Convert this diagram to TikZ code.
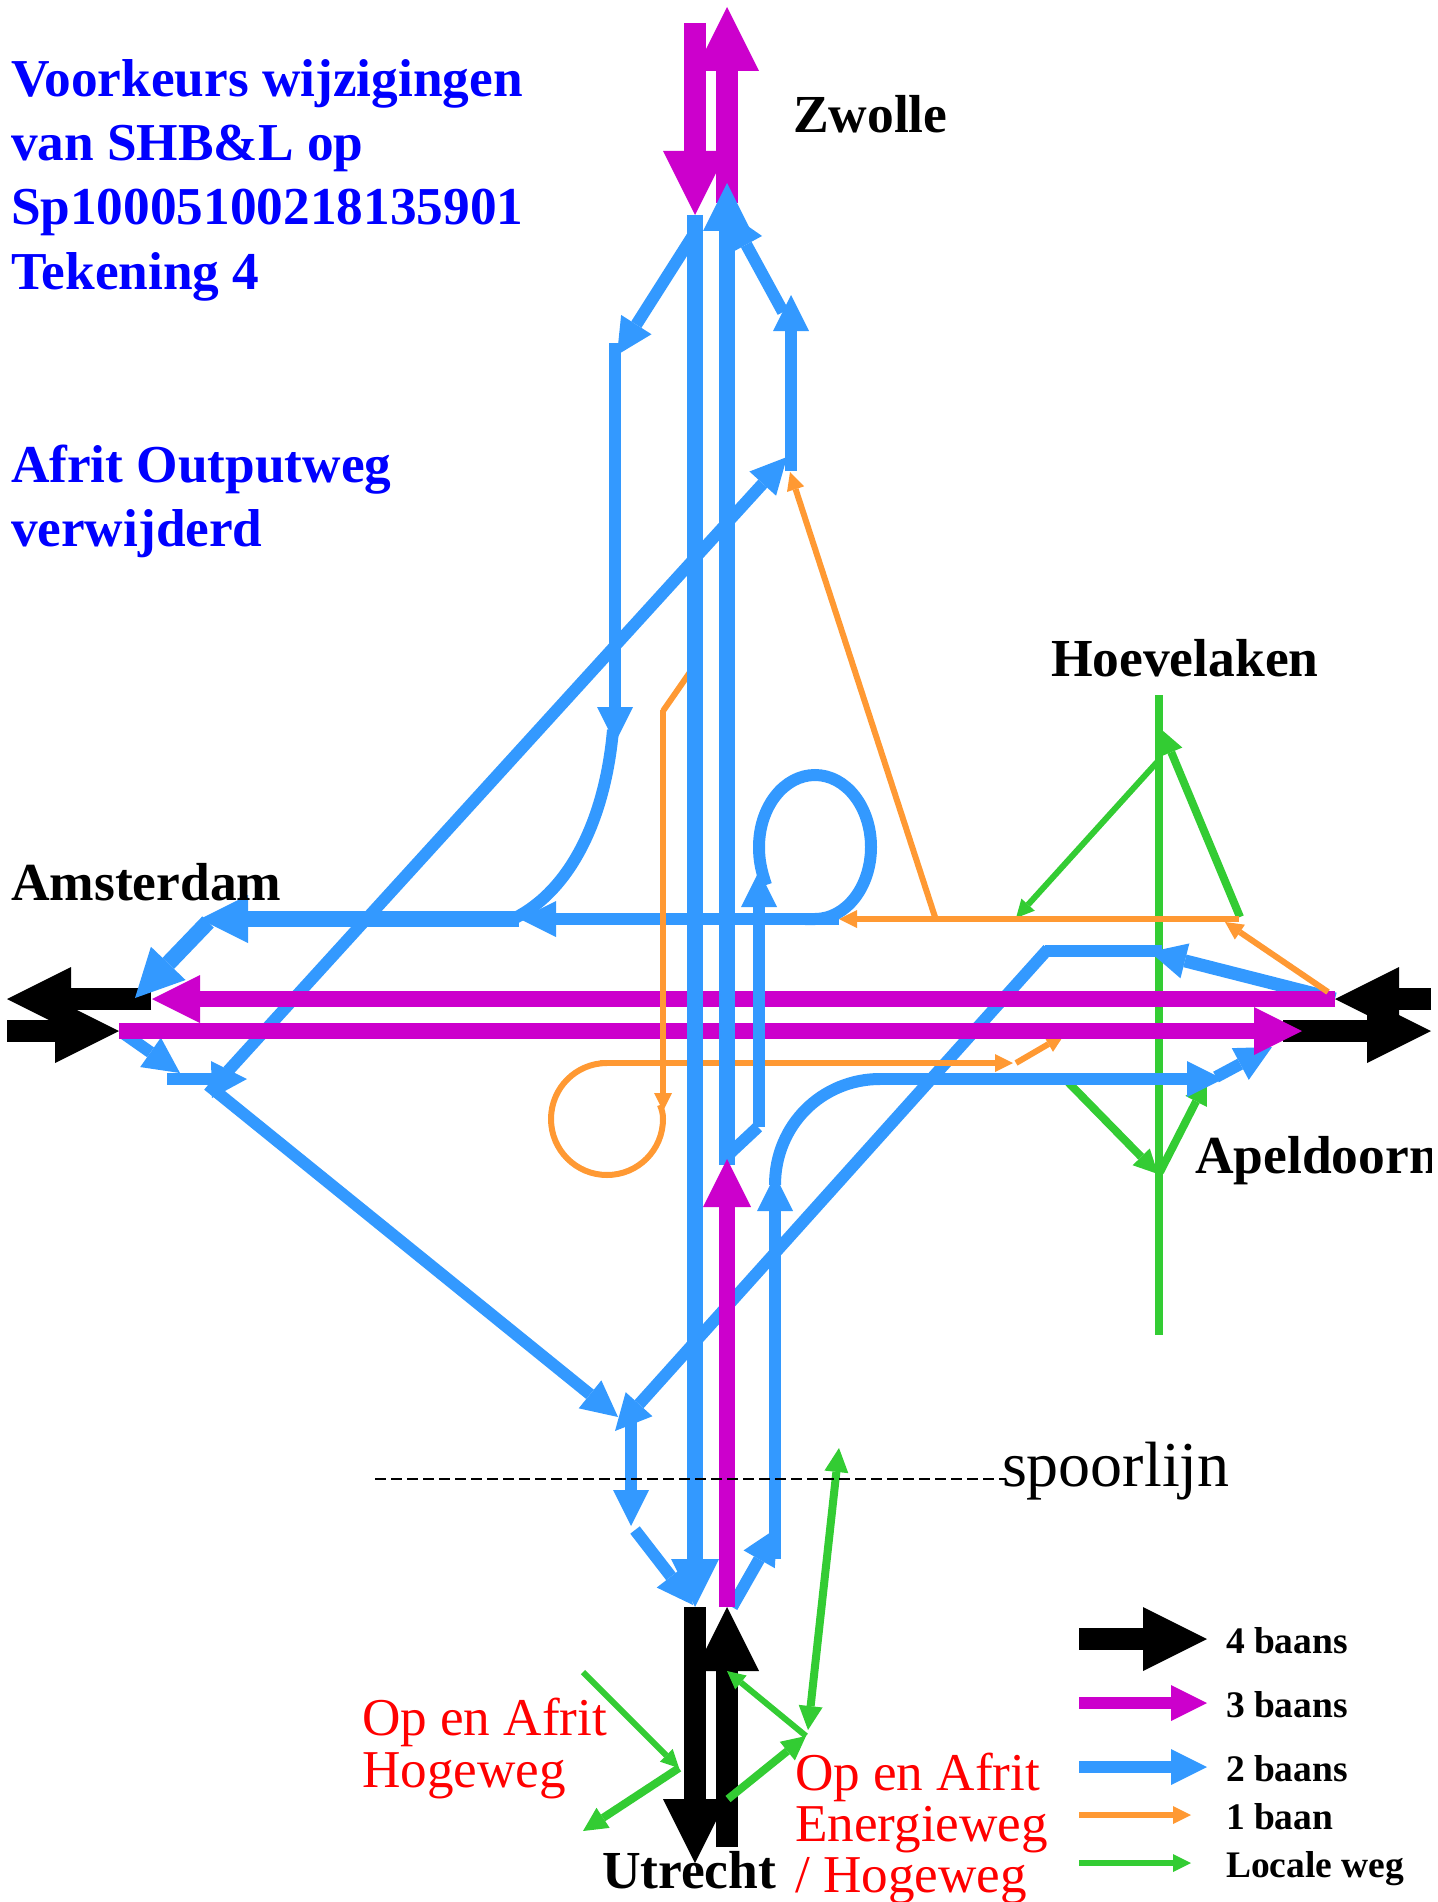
\documentclass[tikz,border=0pt]{standalone}
\usepackage{fontspec}
\setmainfont{Liberation Serif}
\usetikzlibrary{arrows.meta}
\definecolor{wayblue}{RGB}{51,153,255}
\definecolor{waymag}{RGB}{204,0,204}
\definecolor{waygreen}{RGB}{51,204,51}
\definecolor{wayorange}{RGB}{255,153,51}
\tikzset{
  fourway/.style={line width=21.5pt,-{Triangle[length=64pt,width=64pt,line width=0pt]}},
  threeway/.style={draw=waymag,line width=16pt,-{Triangle[length=48pt,width=48pt,line width=0pt]}},
  twowide/.style={draw=wayblue,line width=16pt,-{Triangle[length=48pt,width=48pt,line width=0pt]}},
  twothin/.style={draw=wayblue,line width=12pt,-{Triangle[length=36pt,width=36pt,line width=0pt]}},
  twoplain/.style={draw=wayblue,line width=12pt},
  orangeway/.style={draw=wayorange,line width=6pt,-{Triangle[length=18pt,width=18pt,line width=0pt]}},
  orangeplain/.style={draw=wayorange,line width=6pt},
  greenthin/.style={draw=waygreen,line width=6pt,-{Triangle[length=18pt,width=18pt,line width=0pt]}},
  greenthick/.style={draw=waygreen,line width=8pt,-{Triangle[length=24pt,width=24pt,line width=0pt]}},
  txt/.style={inner sep=0pt,outer sep=0pt,anchor=base west},
  bluetxt/.style={txt,text=blue,font=\fontsize{53.3}{53.3}\selectfont\bfseries},
  blacktxt/.style={txt,text=black,font=\fontsize{53.5}{53.5}\selectfont\bfseries},
  redtxt/.style={txt,text=red,font=\fontsize{53.2}{53.2}\selectfont},
  legtxt/.style={txt,text=black,font=\fontsize{37.5}{37.5}\selectfont\bfseries},
}
\begin{document}
\begin{tikzpicture}[x=1pt,y=-1pt]
\useasboundingbox (0,0) rectangle (1437,1902);
% local roads
\draw[draw=waygreen,line width=8pt] (1159,695) -- (1159,1335);
\draw[greenthin] (1159,760) -- (1016,918);
\draw[greenthick] (1240,917) -- (1162,730);
\draw[greenthick] (1065,1079) -- (1158,1174);
\draw[greenthick] (1160,1172) -- (1207,1080);
% motorway ends, horizontal
\draw[fourway] (151,999) -- (7,999);
\draw[fourway] (7,1031) -- (119,1031);
\draw[fourway] (1431,999) -- (1335,999);
\draw[fourway] (1283,1031) -- (1431,1031);
% two lane ramps
\draw[twothin] (228,1071) -- (787,457);
\fill[wayblue] (211,1061) -- (247,1079) -- (212,1098) -- cycle;
\draw[twoplain] (167,1079) -- (225,1079);
\draw[twothin] (123,1033) -- (180,1073);
\draw[twothin] (208,1085) -- (618,1417);
\draw[twothin] (1048,949) -- (615,1431);
\draw[twoplain] (1045,951) -- (1162,951);
\draw[draw=wayblue,line width=13pt,-{Triangle[length=36pt,width=36pt,line width=0pt]}] (1335,999) -- (1150,952);
\draw[twothin] (839,919) -- (520,919);
\draw[twowide] (519,919) -- (200,919);
\draw[twowide] (208,922) -- (135,998);
\draw[twothin] (692,237) -- (617,355);
\draw[twothin] (615,343) -- (615,743);
\draw[twoplain] (613,730) .. controls (605,820) and (570,890) .. (515,918);
\draw[twothin] (791,471) -- (791,295);
\draw[twothin] (783,312) -- (729,213);
\draw[twothin] (775,1559) -- (775,1175);
\draw[twoplain] (775,1185) .. controls (775,1125) and (822,1079) .. (880,1079);
\draw[twothin] (880,1079) -- (1223,1079);
\draw[twothin] (1216,1077) -- (1272,1047);
\draw[twothin] (631,1421) -- (631,1526);
\draw[twothin] (635,1530) -- (693,1605);
\draw[twothin] (732,1607) -- (777,1528);
% small orange stub, runs under the motorway
\draw[orangeway] (1016,1063) -- (1064,1035);
% three lane horizontals
\draw[threeway] (1335,999) -- (152,999);
\draw[threeway] (119,1031) -- (1302,1031);
% one lane roads
\draw[orangeway] (1239,919) -- (839,919);
\draw[orangeway] (935,917) -- (790,472);
\draw[orangeway] (1328,992) -- (1225,922);
\draw[orangeplain] (695,665) -- (663,711);
\draw[orangeway] (663,710) -- (663,1111);
\draw[orangeplain] (660,1105) .. controls (662,1110) and (663,1114) .. (663,1119)
  .. controls (663,1150) and (638,1175) .. (607,1175)
  .. controls (576,1175) and (551,1150) .. (551,1119)
  .. controls (551,1088) and (576,1063) .. (607,1063);
\draw[orangeway] (600,1063) -- (1013,1063);
% loop and inner ramp
\draw[twoplain] (758,1127) -- (727,1156);
\draw[twothin] (759,1127) -- (759,871);
\draw[twoplain] (805,919) -- (815,919)
  .. controls (846,919) and (871,887) .. (871,847)
  .. controls (871,807) and (846,775) .. (815,775)
  .. controls (784,775) and (759,807) .. (759,847)
  .. controls (759,860) and (761,870) .. (766,885);
% north end
\draw[draw=waymag,line width=21.5pt,-{Triangle[length=64pt,width=64pt,line width=0pt]}] (695,23) -- (695,215);
\draw[draw=waymag,line width=21.5pt,-{Triangle[length=64pt,width=64pt,line width=0pt]}] (727,203) -- (727,7);
% main carriageways
\draw[twowide] (695,215) -- (695,1607);
\draw[twowide] (727,1165) -- (727,183);
\draw[threeway] (727,1607) -- (727,1159);
\draw[fourway] (695,1607) -- (695,1863);
\draw[fourway] (727,1847) -- (727,1607);
% bottom local roads
\draw[greenthin] (583,1672) -- (679,1768);
\draw[greenthick] (679,1768) -- (583,1831);
\draw[greenthick] (728,1799) -- (806,1736);
\draw[greenthin] (806,1736) -- (727,1671);
\draw[draw=waygreen,line width=8pt,{Triangle[length=24pt,width=24pt,line width=0pt]}-{Triangle[length=24pt,width=24pt,line width=0pt]}] (839,1448) -- (808,1730);
% railway
\draw[black,line width=2pt,dash pattern=on 11pt off 5pt] (375,1479) -- (1005,1479);
% legend
\draw[fourway] (1079,1639) -- (1207,1639);
\draw[draw=waymag,line width=12pt,-{Triangle[length=36pt,width=36pt,line width=0pt]}] (1079,1703) -- (1207,1703);
\draw[twothin] (1079,1767) -- (1207,1767);
\draw[orangeway] (1079,1815) -- (1191,1815);
\draw[greenthin] (1079,1863) -- (1191,1863);
\node[legtxt] (l4) at (1226,1653) {4 baans};
\node[legtxt] (l3) at (1226,1717) {3 baans};
\node[legtxt] (l2) at (1226,1781) {2 baans};
\node[legtxt] (l1) at (1226,1829) {1 baan};
\node[legtxt] (l0) at (1226,1877) {Locale weg};
% titles
\node[bluetxt] (t1) at (11,97) {Voorkeurs wijzigingen};
\node[bluetxt] (t2) at (11,161) {van SHB\&L op};
\node[bluetxt] (t3) at (11,225) {Sp10005100218135901};
\node[bluetxt] (t4) at (11,289) {Tekening 4};
\node[bluetxt] (t5) at (11,482) {Afrit Outputweg};
\node[bluetxt] (t6) at (11,546) {verwijderd};
% places
\node[blacktxt] (zw) at (793,133) {Zwolle};
\node[blacktxt] (ho) at (1051,676) {Hoevelaken};
\node[blacktxt] (am) at (11,900) {Amsterdam};
\begin{scope}
\clip (0,0) rectangle (1431,1902);
\node[blacktxt] (ap) at (1195,1173) {Apeldoorn};
\end{scope}
\node[blacktxt] (ut) at (602,1888) {Utrecht};
\node[txt,font=\fontsize{64}{64}\selectfont] (sp) at (1002,1486) {spoorlijn};
\node[redtxt] (r1) at (362,1735) {Op en Afrit};
\node[redtxt] (r2) at (362,1787) {Hogeweg};
\node[redtxt] (r3) at (795,1790) {Op en Afrit};
\node[redtxt] (r4) at (795,1841) {Energieweg};
\node[redtxt] (r5) at (795,1892) {/ Hogeweg};
\end{tikzpicture}
\end{document}
